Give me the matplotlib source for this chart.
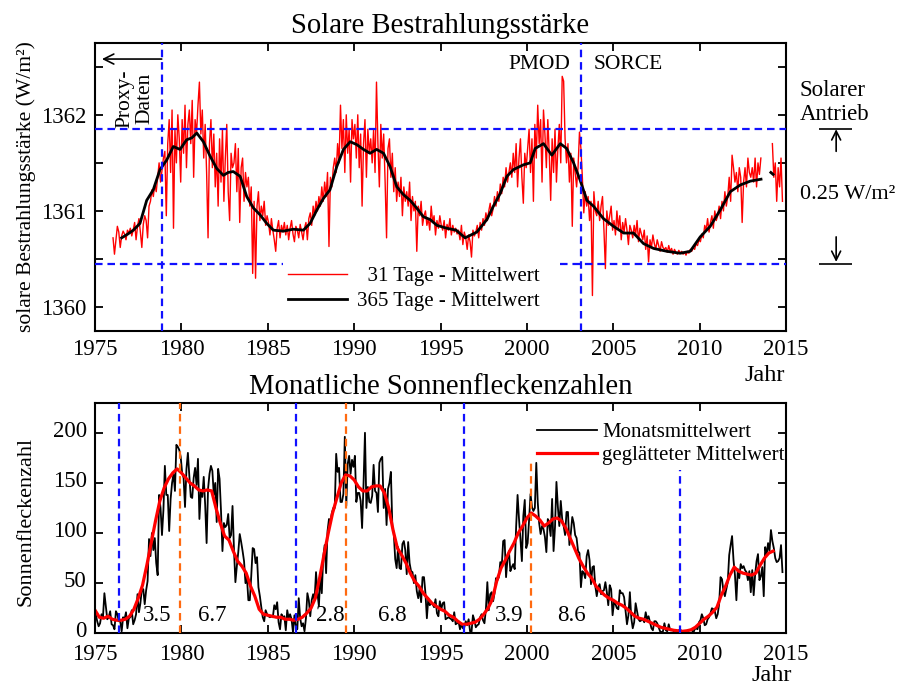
import matplotlib
matplotlib.use("Agg")
import matplotlib.pyplot as plt
import matplotlib.transforms as mtransforms
import numpy as np

plt.rcParams['font.family'] = ['Liberation Serif', 'DejaVu Serif']

nan = np.nan

# ---------------- data: solar irradiance (W/m2) ----------------
tsi_start = 1976          # first month of the 31-day series
tsi_31d = [
    1360.72, 1360.55, 1360.70, 1360.84, 1360.78, 1360.62, 1360.74, 1360.79, 1360.76, 1360.70, 1360.80, 1360.77,  # 1976
    1360.82, 1360.74, 1360.80, 1360.88, 1360.70, 1360.84, 1360.92, 1360.78, 1360.62, 1360.86, 1360.95, 1360.90,  # 1977
    1360.72, 1361.05, 1361.10, 1361.22, 1361.15, 1361.28, 1361.20, 1361.35, 1361.50, 1361.30, 1361.42, 1361.55,  # 1978
    1361.62, 1360.95, 1361.70, 1361.95, 1361.40, 1362.05, 1360.82, 1361.85, 1361.50, 1362.00, 1361.75, 1361.30,  # 1979
    1361.95, 1361.60, 1362.10, 1361.45, 1361.90, 1362.05, 1361.70, 1362.15, 1361.35, 1361.95, 1361.80, 1362.10,  # 1980
    1362.34, 1361.80, 1362.05, 1361.55, 1361.90, 1361.40, 1360.72, 1361.70, 1361.95, 1361.45, 1361.80, 1361.25,  # 1981
    1361.60, 1361.05, 1361.75, 1361.30, 1361.85, 1361.10, 1361.55, 1361.90, 1361.20, 1360.90, 1361.60, 1361.45,  # 1982
    1361.50, 1361.70, 1361.20, 1361.65, 1360.88, 1361.45, 1361.55, 1361.10, 1361.40, 1361.25, 1361.35, 1361.05,  # 1983
    1361.25, 1360.35, 1361.10, 1360.30, 1361.05, 1361.20, 1360.90, 1361.05, 1360.95, 1361.10, 1360.85, 1360.95,  # 1984
    1360.88, 1360.75, 1360.92, 1360.80, 1360.70, 1360.58, 1360.82, 1360.90, 1360.72, 1360.85, 1360.78, 1360.88,  # 1985
    1360.75, 1360.85, 1360.70, 1360.82, 1360.90, 1360.76, 1360.68, 1360.84, 1360.80, 1360.72, 1360.86, 1360.78,  # 1986
    1360.70, 1360.82, 1360.88, 1360.70, 1360.92, 1360.98, 1360.85, 1361.05, 1360.95, 1361.10, 1361.00, 1361.15,  # 1987
    1361.05, 1361.25, 1361.10, 1361.30, 1361.15, 1361.40, 1360.63, 1361.35, 1361.25, 1361.45, 1361.55, 1361.40,  # 1988
    1361.70, 1361.50, 1362.10, 1361.65, 1361.95, 1361.40, 1362.00, 1361.60, 1361.85, 1361.30, 1361.95, 1361.75,  # 1989
    1361.90, 1361.55, 1362.00, 1361.45, 1361.80, 1361.05, 1361.70, 1361.95, 1361.35, 1361.85, 1361.60, 1361.75,  # 1990
    1361.50, 1361.85, 1361.40, 1362.34, 1361.70, 1361.25, 1361.90, 1361.55, 1361.80, 1361.30, 1360.72, 1361.65,  # 1991
    1361.75, 1361.35, 1361.60, 1361.20, 1361.45, 1361.10, 1361.30, 1361.15, 1361.35, 1360.95, 1361.25, 1361.10,  # 1992
    1361.20, 1361.05, 1361.30, 1360.90, 1361.15, 1361.00, 1361.10, 1360.58, 1361.05, 1360.95, 1361.10, 1360.85,  # 1993
    1360.95, 1361.00, 1360.85, 1360.92, 1360.80, 1361.05, 1360.88, 1360.95, 1360.75, 1360.90, 1360.82, 1360.95,  # 1994
    1360.85, 1360.80, 1360.90, 1360.72, 1360.86, 1360.80, 1360.92, 1360.75, 1360.85, 1360.78, 1360.82, 1360.76,  # 1995
    1360.80, 1360.70, 1360.85, 1360.65, 1360.78, 1360.72, 1360.60, 1360.75, 1360.68, 1360.52, 1360.80, 1360.74,  # 1996
    1360.78, 1360.85, 1360.72, 1360.88, 1360.80, 1360.92, 1360.85, 1360.98, 1360.90, 1361.00, 1361.08, 1360.95,  # 1997
    1361.02, 1361.15, 1361.05, 1361.20, 1361.10, 1361.28, 1361.18, 1361.35, 1361.25, 1361.45, 1361.30, 1361.40,  # 1998
    1361.50, 1361.35, 1361.60, 1361.40, 1361.70, 1361.25, 1361.55, 1361.75, 1361.35, 1361.08, 1361.60, 1361.45,  # 1999
    1361.65, 1361.85, 1361.40, 1361.75, 1361.10, 1361.90, 1361.55, 1362.10, 1361.70, 1361.95, 1361.30, 1362.05,  # 2000
    1361.80, 1361.45, 1361.95, 1361.60, 1361.11, 1361.75, 1361.40, 1361.85, 1361.30, 1361.65, 1361.90, 1361.50,  # 2001
    1362.40, 1362.35, 1361.75, 1361.50, 1361.70, 1361.30, 1361.60, 1360.84, 1361.55, 1361.40, 1361.25, 1361.45,  # 2002
    1361.82, 1361.65, 1361.35, 1360.98, 1361.20, 1361.05, 1361.15, 1360.90, 1361.10, 1360.12, 1361.20, 1361.00,  # 2003
    1360.95, 1361.10, 1360.90, 1361.05, 1361.15, 1360.80, 1360.40, 1361.00, 1360.85, 1360.95, 1361.05, 1360.80,  # 2004
    1360.90, 1360.75, 1361.00, 1360.82, 1360.95, 1360.70, 1360.88, 1360.78, 1360.92, 1360.80, 1360.65, 1360.85,  # 2005
    1360.80, 1360.72, 1360.85, 1360.75, 1360.90, 1360.68, 1360.82, 1360.76, 1360.70, 1360.80, 1360.60, 1360.74,  # 2006
    1360.47, 1360.70, 1360.62, 1360.75, 1360.66, 1360.60, 1360.70, 1360.64, 1360.58, 1360.68, 1360.62, 1360.60,  # 2007
    1360.62, 1360.57, 1360.64, 1360.58, 1360.61, 1360.55, 1360.60, 1360.57, 1360.55, 1360.59, 1360.56, 1360.58,  # 2008
    1360.55, 1360.57, 1360.54, 1360.58, 1360.56, 1360.60, 1360.58, 1360.62, 1360.60, 1360.66, 1360.64, 1360.70,  # 2009
    1360.68, 1360.76, 1360.72, 1360.85, 1360.80, 1360.92, 1360.78, 1360.88, 1360.95, 1360.82, 1361.00, 1360.90,  # 2010
    1360.95, 1361.05, 1360.92, 1361.10, 1361.00, 1361.20, 1361.05, 1361.15, 1361.35, 1361.10, 1361.58, 1361.45,  # 2011
    1361.30, 1361.40, 1361.20, 1361.45, 1361.35, 1360.88, 1361.30, 1361.45, 1361.25, 1361.55, 1361.40, 1361.35,  # 2012
    1361.45, 1361.30, 1361.55, 1361.25, 1361.50, 1361.38, 1361.55, nan, nan, nan, nan, nan,                      # 2013
    nan, nan, 1361.70, 1361.35, 1361.50, 1361.10, 1361.45, 1361.25, 1361.55, 1361.10,                            # 2014
]

tsi_365_year = [
    1976.54, 1976.9, 1977.22, 1977.6, 1977.99, 1978.37, 1978.76, 1979.15, 1979.53, 1979.92,
    1980.3, 1980.6, 1980.89, 1981.27, 1981.66, 1982.05, 1982.43, 1982.7, 1983.0, 1983.4,
    1983.78, 1984.17, 1984.55, 1984.94, 1985.32, 1985.9, 1986.48, 1987.06, 1987.45, 1987.84,
    1988.22, 1988.6, 1988.99, 1989.38, 1989.77, 1990.15, 1990.54, 1990.92, 1991.3, 1991.7,
    1992.08, 1992.47, 1992.85, 1993.24, 1993.62, 1994.0, 1994.4, 1994.79, 1995.36, 1995.9,
    1996.42, 1997.1, 1997.68, 1998.06, 1998.45, 1998.84, 1999.22, 1999.8, 2000.19, 2000.48,
    2000.96, 2001.44, 2001.93, 2002.3, 2002.7, 2003.08, 2003.47, 2003.85, 2004.43, 2005.01,
    2005.6, 2006.17, 2006.75, 2007.33, 2008.1, 2008.87, 2009.45, 2010.03, 2010.61, 2011.19,
    2011.77, 2012.35, 2012.93, 2013.55, 2013.8, 2014.12, 2014.25,
]
tsi_365 = [
    1360.72, 1360.76, 1360.80, 1360.87, 1361.11, 1361.22, 1361.43, 1361.53, 1361.67, 1361.64,
    1361.74, 1361.76, 1361.81, 1361.72, 1361.57, 1361.44, 1361.37, 1361.40, 1361.41, 1361.36,
    1361.15, 1361.03, 1360.96, 1360.87, 1360.80, 1360.79, 1360.81, 1360.80, 1360.87, 1361.01,
    1361.13, 1361.22, 1361.46, 1361.64, 1361.72, 1361.69, 1361.64, 1361.60, 1361.64, 1361.60,
    1361.46, 1361.25, 1361.17, 1361.11, 1361.03, 1360.94, 1360.91, 1360.85, 1360.82, 1360.80,
    1360.72, 1360.78, 1360.91, 1361.05, 1361.18, 1361.36, 1361.43, 1361.48, 1361.50, 1361.65,
    1361.70, 1361.58, 1361.70, 1361.65, 1361.50, 1361.32, 1361.11, 1361.05, 1360.92, 1360.84,
    1360.77, 1360.77, 1360.66, 1360.61, 1360.58, 1360.56, 1360.58, 1360.73, 1360.84, 1361.01,
    1361.20, 1361.27, 1361.31, 1361.33, nan, 1361.40, 1361.38,
]

proxy_end = 1978.86       # end of proxy data
pmod_end = 2003.14        # PMOD -> SORCE
forcing_max = 1361.85
forcing_min = 1360.45

# ---------------- data: sunspot numbers ----------------
ssn_start = 1975
ssn_monthly = [
    19, 12, 7, 10, 19, 16, 40, 27, 14, 16, 22, 9,            # 1975
    8, 4, 22, 19, 12, 12, 2, 16, 14, 21, 5, 15,              # 1976
    16, 23, 9, 13, 19, 39, 21, 30, 44, 44, 29, 43,           # 1977
    52, 94, 77, 100, 83, 95, 70, 58, 138, 125, 98, 123,      # 1978
    167, 138, 138, 102, 134, 150, 159, 142, 188, 186, 183, 176,  # 1979
    160, 155, 126, 164, 180, 157, 136, 135, 155, 165, 148, 174,  # 1980
    114, 141, 136, 156, 128, 90, 144, 159, 167, 162, 138, 150,   # 1981
    111, 164, 154, 122, 82, 110, 106, 108, 119, 95, 98, 127,     # 1982
    84, 51, 67, 81, 99, 91, 82, 72, 50, 56, 33, 33,          # 1983
    57, 85, 84, 70, 76, 46, 37, 26, 16, 12, 23, 19,          # 1984
    17, 16, 17, 16, 28, 24, 31, 11, 4, 19, 16, 17,           # 1985
    3, 23, 15, 19, 14, 1, 18, 7, 4, 35, 15, 7,               # 1986
    10, 2, 15, 40, 33, 17, 33, 39, 34, 61, 40, 27,           # 1987
    59, 40, 76, 88, 60, 102, 114, 112, 120, 125, 125, 179,   # 1988
    161, 165, 131, 131, 139, 196, 127, 169, 177, 159, 173, 166,  # 1989
    177, 131, 140, 140, 132, 105, 149, 200, 125, 146, 131, 130,  # 1990
    137, 168, 142, 140, 121, 170, 174, 176, 125, 144, 108, 144,  # 1991
    150, 161, 107, 100, 74, 65, 86, 65, 64, 89, 92, 83,      # 1992
    59, 91, 70, 62, 61, 50, 58, 42, 35, 45, 31, 56,          # 1993
    56, 40, 15, 35, 28, 30, 29, 26, 34, 20, 17, 32,          # 1994
    24, 30, 31, 14, 15, 16, 15, 14, 12, 21, 9, 10,           # 1995
    12, 4, 9, 5, 6, 12, 8, 14, 2, 1, 18, 13,                 # 1996
    6, 8, 9, 16, 19, 13, 10, 24, 51, 23, 39, 41,             # 1997
    32, 40, 55, 53, 56, 71, 67, 92, 93, 56, 74, 82,          # 1998
    62, 66, 69, 64, 106, 138, 114, 94, 72, 117, 133, 85,     # 1999
    90, 113, 139, 126, 122, 125, 170, 131, 110, 99, 107, 104,    # 2000
    96, 81, 114, 108, 97, 134, 82, 106, 151, 126, 107, 132,  # 2001
    114, 107, 98, 121, 121, 88, 100, 116, 110, 98, 95, 82,   # 2002
    80, 46, 62, 60, 55, 77, 83, 73, 49, 66, 67, 47,          # 2003
    37, 46, 49, 39, 42, 43, 51, 41, 28, 48, 44, 18,          # 2004
    31, 29, 25, 24, 43, 40, 40, 36, 22, 9, 18, 41,           # 2005
    15, 5, 11, 30, 22, 14, 12, 13, 14, 11, 21, 14,           # 2006
    17, 11, 5, 3, 12, 12, 10, 6, 2, 1, 2, 10,                # 2007
    3, 2, 9, 3, 3, 3, 1, 0, 1, 3, 4, 1,                      # 2008
    2, 1, 1, 1, 3, 3, 4, 0, 4, 5, 4, 11,                     # 2009
    13, 19, 15, 8, 9, 14, 16, 20, 25, 24, 22, 15,            # 2010
    19, 29, 56, 54, 42, 37, 44, 51, 78, 88, 97, 73,          # 2011
    58, 33, 64, 55, 69, 65, 67, 63, 61, 53, 62, 41,          # 2012
    63, 38, 58, 72, 79, 53, 57, 66, 37, 86, 78, 90,          # 2013
    82, 103, 92, 85, 75, 71, 72, 75, 88, 61,                 # 2014
]

# smoothed mean, one value per quarter year
ssn_smooth = [
    23, 16, 15, 17,   14, 13, 13, 14,   17, 24, 35, 48,   68, 90, 112, 132,      # 1975-78
    145, 154, 160, 164,   160, 155, 150, 147,   143, 142, 143, 142,              # 1979-81
    125, 110, 97, 93,   82, 72, 67, 60,   47, 37, 24, 19,                         # 1982-84
    18, 17, 16, 16,   14, 14, 13, 14,   16, 20, 25, 35,   55, 78, 100, 120,      # 1985-88
    135, 150, 158, 157,   153, 146, 142, 142,   146, 147, 147, 140,              # 1989-91
    125, 103, 85, 78,   70, 60, 52, 47,   40, 35, 30, 27,   24, 22, 18, 16,      # 1992-95
    12, 9, 9, 10,   11, 14, 19, 25,   34, 52, 65, 73,   82, 90, 100, 107,        # 1996-99
    115, 120, 117, 113,   107, 110, 114, 115,   112, 105, 95, 85,                # 2000-02
    75, 67, 60, 55,   47, 42, 38, 35,   33, 30, 28, 25,   21, 17, 15, 14,        # 2003-06
    12, 10, 8, 6,   5, 4, 3, 2.5,   2, 2.5, 3.5, 6,   10, 14, 17, 21,            # 2007-10
    26, 38, 47, 58,   66, 62, 60, 59,   58, 60, 68, 75,   80, 82,                # 2011-14
]

cycle_min = [1976.4, 1986.66, 1996.37, 2008.87]
cycle_min_top = [1.0, 1.0, 1.0, 0.71]      # fraction of axis height
cycle_max = [1979.92, 1989.5, 2000.25]
cycle_max_top = [1.0, 1.0, 0.74]
cycle_len = ['3.5', '6.7', '2.8', '6.8', '3.9', '8.6']
cycle_len_x = [1978.6, 1981.8, 1988.6, 1992.2, 1999.0, 2002.6]

# ---------------- figure ----------------
fig = plt.figure(figsize=(9, 7), dpi=100)
ax1 = fig.add_axes([0.1056, 0.527, 0.7678, 0.412])
ax2 = fig.add_axes([0.1056, 0.0953, 0.7678, 0.3294])

blue = '#1010ff'
orange = '#ff6a10'
dash = (0, (3.4, 2.2))

# top panel
t31 = tsi_start + (np.arange(len(tsi_31d)) + 0.5) / 12
ax1.plot(t31, tsi_31d, color='red', lw=1.0, label='  31 Tage - Mittelwert')
ax1.plot(tsi_365_year, tsi_365, color='black', lw=2.0, label='365 Tage - Mittelwert')

ax1.axvline(proxy_end, color=blue, ls=dash, lw=1.6, zorder=3)
ax1.axvline(pmod_end, color=blue, ls=dash, lw=1.6, zorder=3)
ax1.axhline(forcing_max, color=blue, ls=dash, lw=1.6, zorder=3)
ax1.hlines(forcing_min, 1975, 1985.9, color=blue, ls=dash, lw=1.6, zorder=3)
ax1.hlines(forcing_min, 2001.9, 2015, color=blue, ls=dash, lw=1.6, zorder=3)

ax1.annotate('', xy=(1975.4, 1362.58), xytext=(proxy_end, 1362.58),
             arrowprops=dict(arrowstyle='->', lw=1.2, color='black', shrinkA=0, shrinkB=0,
                             mutation_scale=18))
ax1.text(1977.32, 1362.17, 'Proxy-\nDaten', rotation=90, ha='center', va='center',
         fontsize=15.5, linespacing=1.1)
ax1.text(2002.5, 1362.52, 'PMOD', ha='right', va='center', fontsize=15.5)
ax1.text(2003.85, 1362.52, 'SORCE', ha='left', va='center', fontsize=15.5)

# forcing annotation right of axes
ax1.text(1.02, 0.87, 'Solarer\nAntrieb', transform=ax1.transAxes, ha='left', va='top',
         fontsize=16.5, linespacing=1.15)
ax1.text(1.02, 0.472, '0.25 W/m²', transform=ax1.transAxes, ha='left', va='center', fontsize=16)
ax1.hlines([forcing_max, forcing_min], 2016.9, 2018.8, color='black', lw=1.2, clip_on=False)
ax1.annotate('', xy=(2017.9, forcing_max), xytext=(2017.9, 1361.62), annotation_clip=False,
             arrowprops=dict(arrowstyle='->', lw=1.2, color='black', shrinkA=0, shrinkB=0,
                             mutation_scale=16))
ax1.annotate('', xy=(2017.9, forcing_min + 0.02), xytext=(2017.9, 1360.73), annotation_clip=False,
             arrowprops=dict(arrowstyle='->', lw=1.2, color='black', shrinkA=0, shrinkB=0,
                             mutation_scale=16))

ax1.set_xlim(1975, 2015)
ax1.set_ylim(1359.75, 1362.75)
ax1.set_xticks(np.arange(1975, 2016, 5))
ax1.set_yticks([1360, 1360.5, 1361, 1361.5, 1362, 1362.5])
ax1.set_yticklabels(['1360', '', '1361', '', '1362', ''])
ax1.set_title('Solare Bestrahlungsstärke', fontsize=20.6, pad=7)
ax1.set_ylabel('solare Bestrahlungsstärke (W/m²)', fontsize=15.6)
ax1.yaxis.set_label_coords(-0.086, 0.5)
ax1.text(0.9985, -0.153, 'Jahr', transform=ax1.transAxes, ha='right', va='center', fontsize=17.5)
ax1.legend(loc='upper left', bbox_to_anchor=(0.279, 0.224), frameon=False, fontsize=15,
           handlelength=2.85, handletextpad=0.45, labelspacing=0.25, borderpad=0,
           borderaxespad=0)

# bottom panel
tm = ssn_start + (np.arange(len(ssn_monthly)) + 0.5) / 12
ts = ssn_start + 0.25 * np.arange(len(ssn_smooth))
ax2.plot(tm, ssn_monthly, color='black', lw=1.3, label='Monatsmittelwert')
ax2.plot(ts, ssn_smooth, color='red', lw=2.3, label='geglätteter Mittelwert')
for x, top in zip(cycle_min, cycle_min_top):
    ax2.axvline(x, ymax=top, color=blue, ls=dash, lw=1.6, zorder=3)
for x, top in zip(cycle_max, cycle_max_top):
    ax2.axvline(x, ymax=top, color=orange, ls=dash, lw=1.6, zorder=3)
for x, s in zip(cycle_len_x, cycle_len):
    ax2.text(x, 18, s, ha='center', va='center', fontsize=16.5)

ax2.set_xlim(1975, 2015)
ax2.set_ylim(0, 230)
ax2.set_xticks(np.arange(1975, 2016, 5))
ax2.set_yticks([0, 50, 100, 150, 200])
ax2.set_title('Monatliche Sonnenfleckenzahlen', fontsize=20.6, pad=6)
ax2.set_ylabel('Sonnenfleckenzahl', fontsize=16)
ax2.yaxis.set_label_coords(-0.086, 0.483)
ax2.text(1.008, -0.181, 'Jahr', transform=ax2.transAxes, ha='right', va='center', fontsize=17.5)
ax2.legend(loc='upper left', bbox_to_anchor=(0.64, 0.913), frameon=False, fontsize=15,
           handlelength=2.85, handletextpad=0.25, labelspacing=0.17, borderpad=0,
           borderaxespad=0)

for ax in (ax1, ax2):
    ax.tick_params(direction='in', top=True, right=True, length=6, width=1.3,
                   labelsize=16.5, pad=6)
    for sp in ax.spines.values():
        sp.set_linewidth(1.5)
ax2.tick_params(axis='x', pad=8)

# lift the sunspot y tick labels a little so "0" clears "1975"
lift = mtransforms.ScaledTranslation(0, 3 / 72, fig.dpi_scale_trans)
for lab in ax2.get_yticklabels():
    lab.set_transform(lab.get_transform() + lift)

fig.savefig('out.png', dpi=100)
